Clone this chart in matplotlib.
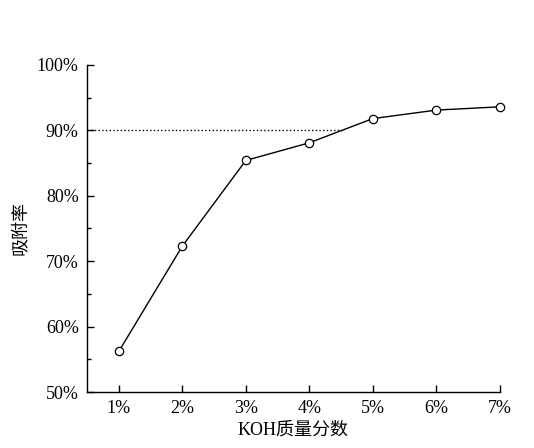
import matplotlib.pyplot as plt
from matplotlib.ticker import MultipleLocator, FuncFormatter

plt.rcParams['font.family'] = ['Liberation Serif', 'Noto Sans CJK SC']

koh = [1, 2, 3, 4, 5, 6, 7]
rate = [56.2, 72.3, 85.4, 88.1, 91.8, 93.1, 93.6]
x_labels = ['1%', '2%', '3%', '4%', '5%', '6%', '7%']
ref_level = 90

fig = plt.figure(figsize=(5.34, 4.48), dpi=100)
ax = fig.add_axes([0.163, 0.125, 0.773, 0.730])

# 90%参考线, 到折线相交处为止
x_cross = 4 + (ref_level - rate[3]) / (rate[4] - rate[3])
ax.plot([0.5, x_cross], [ref_level, ref_level], ':', color='black', lw=1.0)

ax.plot(koh, rate, '-', color='black', lw=1.0, marker='o', markersize=6,
        markerfacecolor='white', markeredgecolor='black', markeredgewidth=0.9, clip_on=False)

ax.set_xlim(0.5, 7)
ax.set_ylim(50, 100)
ax.set_xticks(koh)
ax.set_xticklabels(x_labels)
ax.yaxis.set_major_locator(MultipleLocator(10))
ax.yaxis.set_minor_locator(MultipleLocator(5))
ax.yaxis.set_major_formatter(FuncFormatter(lambda v, p: '%d%%' % v))
ax.tick_params(direction='in', length=5, width=1, labelsize=13, pad=6)
ax.tick_params(axis='y', which='minor', direction='in', length=3, width=1)

for s in ['top', 'right']:
    ax.spines[s].set_visible(False)
for s in ['left', 'bottom']:
    ax.spines[s].set_linewidth(1.0)

ax.set_xlabel('KOH质量分数', fontsize=13, labelpad=3)
ax.set_ylabel('吸附率', fontsize=13, labelpad=6)

fig.savefig('out.png', dpi=100)
